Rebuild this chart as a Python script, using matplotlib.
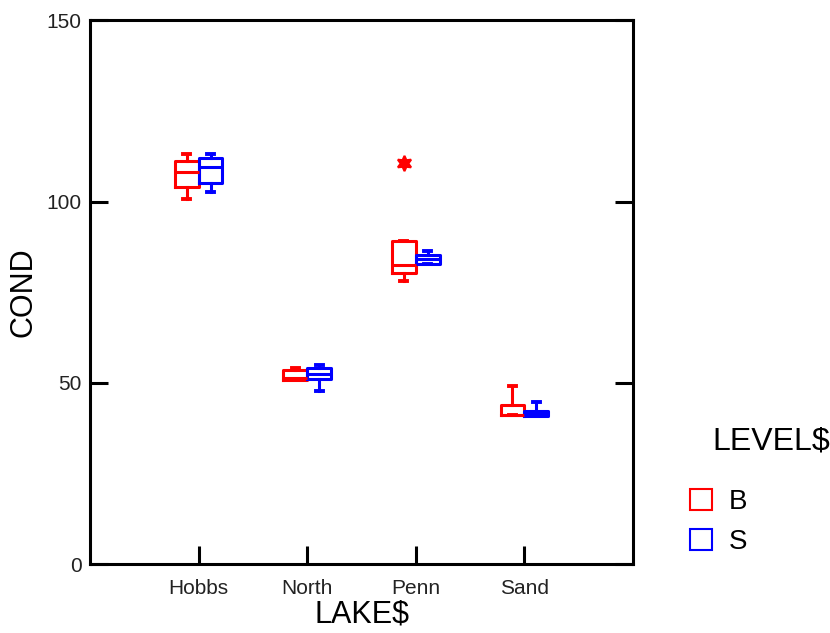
import matplotlib
matplotlib.use("Agg")
import matplotlib.pyplot as plt
from matplotlib.patches import Patch

plt.rcParams['font.family'] = ['Liberation Sans', 'DejaVu Sans']

lakes = ['Hobbs', 'North', 'Penn', 'Sand']
levels = ['B', 'S']
level_colors = {'B': '#ff0000', 'S': '#0000ff'}

# five-number summaries (whislo, q1, med, q3, whishi)
b_whislo = [100.6, 50.7, 78.0, 41.1]
b_q1 = [104.0, 50.7, 80.4, 41.1]
b_med = [108.1, 51.4, 82.4, 41.1]
b_q3 = [111.2, 53.5, 89.0, 43.8]
b_whishi = [113.0, 54.1, 89.0, 49.1]
b_fliers = [[], [], [110.6], []]

s_whislo = [102.5, 47.8, 82.7, 40.8]
s_q1 = [105.1, 50.9, 82.7, 40.8]
s_med = [109.6, 52.4, 84.1, 41.5]
s_q3 = [112.1, 54.2, 85.2, 42.2]
s_whishi = [113.0, 54.9, 86.3, 44.7]
s_fliers = [[], [], [], []]

summaries = {
    'B': (b_whislo, b_q1, b_med, b_q3, b_whishi, b_fliers),
    'S': (s_whislo, s_q1, s_med, s_q3, s_whishi, s_fliers),
}

fig = plt.figure(figsize=(8.3, 6.33), dpi=100)
ax = fig.add_axes([0.1084, 0.109, 0.6543, 0.859])

box_w = 0.22
for k, level in enumerate(levels):
    lo, q1, med, q3, hi, fl = summaries[level]
    stats = [dict(whislo=lo[i], q1=q1[i], med=med[i], q3=q3[i], whishi=hi[i], fliers=fl[i])
             for i in range(len(lakes))]
    offset = -box_w / 2 if k == 0 else box_w / 2
    positions = [i + 1 + offset for i in range(len(lakes))]
    c = level_colors[level]
    ax.bxp(stats, positions=positions, widths=box_w, capwidths=0.065,
           boxprops=dict(color=c, lw=2.2),
           medianprops=dict(color=c, lw=2.2),
           whiskerprops=dict(color=c, lw=2.2),
           capprops=dict(color=c, lw=2.8),
           flierprops=dict(marker=(6, 1, 0), markersize=11, markerfacecolor=c,
                           markeredgecolor=c, markeredgewidth=1.5),
           manage_ticks=False)

ax.set_xlim(0, 5)
ax.set_ylim(0, 150)
ax.set_xticks(range(1, len(lakes) + 1))
ax.set_xticklabels(lakes)
ax.set_yticks([0, 50, 100, 150])
ax.tick_params(axis='both', direction='in', length=13, width=2.2, labelsize=15, pad=6,
               labelcolor='#222222')
ax.tick_params(axis='x', pad=11)
ax.tick_params(axis='y', right=True)
for sp in ax.spines.values():
    sp.set_linewidth(2.2)

ax.set_xlabel('LAKE$', fontsize=22, labelpad=1)
ax.set_ylabel('COND', fontsize=22, labelpad=6)

fig.text(712 / 830, 1 - 442 / 633, 'LEVEL$', fontsize=23, ha='left', va='center')
handles = [Patch(facecolor='white', edgecolor=level_colors[l], lw=1.5, label=l) for l in levels]
ax.legend(handles=handles, loc='upper left', bbox_to_anchor=(690 / 830, 1 - 489 / 633),
          bbox_transform=fig.transFigure, frameon=False, fontsize=20, borderpad=0,
          borderaxespad=0, handlelength=0.8, handleheight=0.8, handletextpad=0.6,
          labelspacing=0.5)

fig.savefig('out.png', dpi=100)
